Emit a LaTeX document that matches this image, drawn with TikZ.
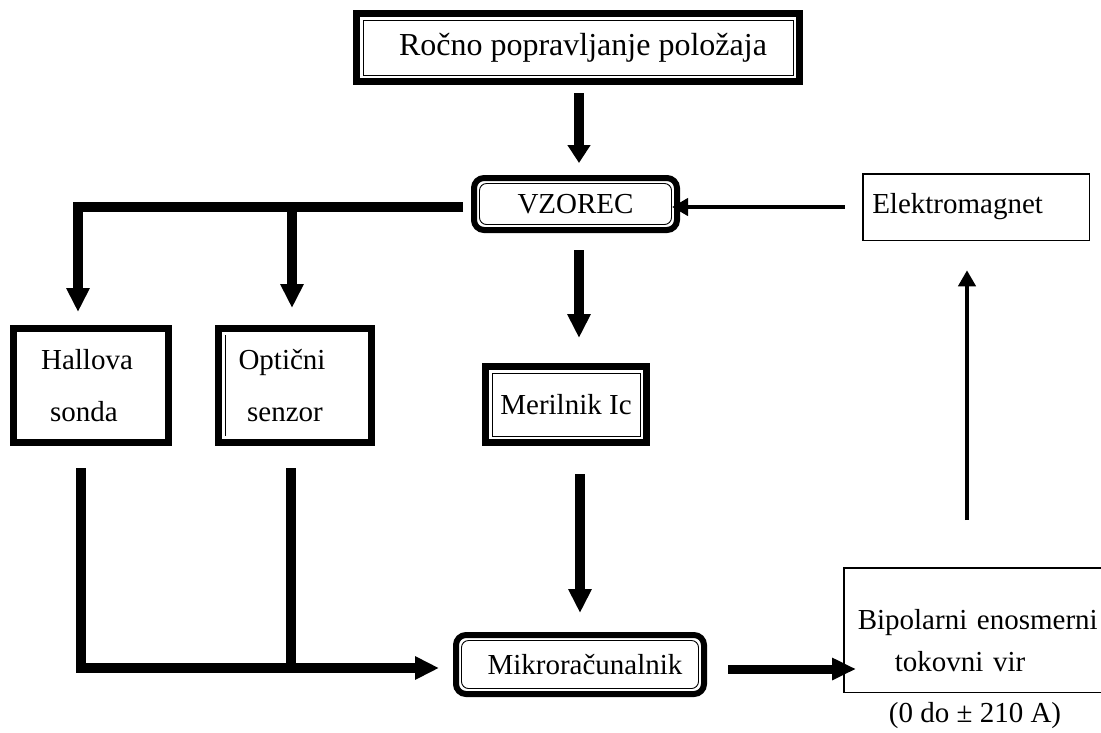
\documentclass[tikz,border=0pt]{standalone}
\usepackage{fontspec}
\setmainfont{Liberation Serif}
\usetikzlibrary{arrows.meta,calc}
\begin{document}
\begin{tikzpicture}[x=1pt,y=-1pt,
  lbl/.style={font=\fontsize{29}{52}\selectfont, inner sep=0pt, outer sep=0pt},
  tbox/.style={lbl, draw, line width=7pt, line join=miter},
  rbox/.style={lbl, draw, line width=6pt, rounded corners=10pt},
  pbox/.style={lbl, draw, line width=1.5pt},
  inner/.style={draw, line width=0.9pt},
  big/.style={line width=10pt, line join=miter, -{Triangle[width=22pt,length=24pt]}},
  mid/.style={line width=9pt, -{Triangle[width=21pt,length=24pt]}},
  thin/.style={line width=4pt, -{Triangle[width=17pt,length=16pt]}},
  plainline/.style={line width=10pt}
]
\useasboundingbox (0,0) rectangle (1101,732);
\fill[white] (0,0) rectangle (1101,732);

% boxes
\node[tbox, minimum width=443pt, minimum height=68pt, font=\fontsize{32}{40}\selectfont] (top) at (578,47.5) {\raisebox{-2pt}{\hspace*{10pt}Ročno popravljanje položaja}};
\node[rbox, minimum width=203pt, minimum height=52pt] (vz) at (575.5,204) {VZOREC};
\node[tbox, minimum width=155pt, minimum height=114pt, align=center] (hall) at (91,385.5) {Hallova\hspace*{8pt}\\sonda\hspace*{14pt}};
\node[tbox, minimum width=153pt, minimum height=114pt, align=center] (opt) at (295,385.5) {Optični\hspace*{26pt}\\senzor\hspace*{20pt}};
\node[tbox, minimum width=161pt, minimum height=76pt] (mer) at (566,404.5) {\raisebox{-6pt}{Merilnik Ic}};
\node[rbox, minimum width=248pt, minimum height=59pt] (mik) at (580,664.5) {\hspace*{10pt}Mikroračunalnik};
\node[pbox, minimum height=66.5pt, text width=207.5pt, inner xsep=9.5pt, align=left] (ele) at (976,207) {Elektromagnet};
\node[pbox, minimum height=124.5pt, text width=242.5pt, inner xsep=14pt, align=left, font=\fontsize{29}{42}\selectfont] (bip) at (979,630) {\rule{0pt}{42pt}Bipolarni enosmerni\\\hspace*{37pt}tokovni vir};
\node[lbl] (range) at (975,716) {(0 do ± 210 A)};

% inner thin lines of the double borders
\foreach \n in {top,mer} {
  \draw[inner] ([shift={(6.5pt,-6.5pt)}]\n.north west) rectangle ([shift={(-6.5pt,6.5pt)}]\n.south east);
}
\foreach \n in {vz,mik} {
  \draw[inner, rounded corners=7pt] ([shift={(5.5pt,-5.5pt)}]\n.north west) rectangle ([shift={(-5.5pt,5.5pt)}]\n.south east);
}
\draw[inner] ([shift={(6.5pt,-6.5pt)}]opt.north west) -- ([shift={(6.5pt,6.5pt)}]opt.south west);

% connectors
\draw[big, -{Triangle[width=22pt,length=18pt]}] ([xshift=1pt,yshift=-11.5pt]top.south) -- ([xshift=3.5pt,yshift=15pt]vz.north);
\draw[big] ([xshift=-11pt,yshift=-3pt]vz.west) -| ([xshift=-13pt,yshift=16.5pt]hall.north);
\coordinate (jo) at (292,207);
\draw[big] (jo) -- ([xshift=-3pt,yshift=20.5pt]opt.north);
\draw[big] ([xshift=3.5pt,yshift=-20pt]vz.south) -- ([xshift=13pt,yshift=28.5pt]mer.north);
\draw[big] ([xshift=14pt,yshift=-31.5pt]mer.south) -- ([yshift=22pt]mik.north);
\draw[big] ([xshift=-10pt,yshift=-25.5pt]hall.south) |- ([xshift=-17pt,yshift=-3.5pt]mik.west);
\coordinate (jb) at (291,668);
\draw[plainline] ([xshift=-4pt,yshift=-25.5pt]opt.south) -- (jb);
\draw[mid, shorten >=11.75pt] ([xshift=24pt,yshift=-4.5pt]mik.east) -- ([xshift=24pt,yshift=-4.5pt]mik.east -| bip.west);
\draw[thin, shorten >=13pt] ([xshift=-18pt]ele.west) -- ([xshift=-18pt]ele.west -| vz.east);
\draw[thin] ([xshift=-12pt,yshift=47.75pt]bip.north) -- ([xshift=-9pt,yshift=-30pt]ele.south);
\end{tikzpicture}
\end{document}
